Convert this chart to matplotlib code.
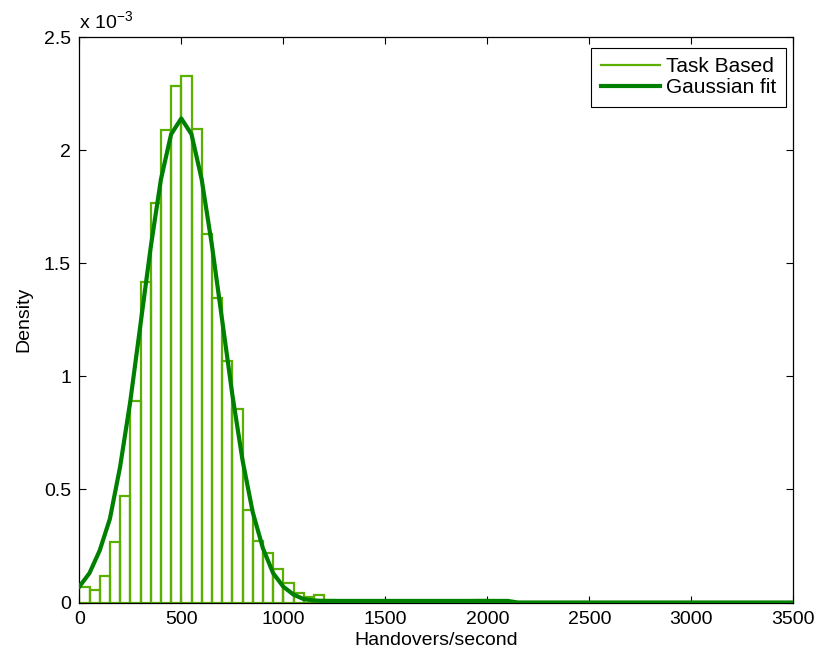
import numpy as np
import matplotlib
matplotlib.use("Agg")
import matplotlib.pyplot as plt
from matplotlib.lines import Line2D
from matplotlib.ticker import FuncFormatter

# ==========================================
# DATA (density in units of 1e-3)
# ==========================================

bin_width = 50
bin_left = np.arange(0, 2100, bin_width)

hist_density = [
    0.067, 0.057, 0.116, 0.268, 0.472, 0.893, 1.419, 1.768, 2.087, 2.283,
    2.327, 2.093, 1.630, 1.344, 1.068, 0.856, 0.407, 0.271, 0.217, 0.147,
    0.087, 0.043, 0.023, 0.033, 0.010, 0.006, 0.008, 0.005, 0.007, 0.006,
    0.005, 0.008, 0.006, 0.004, 0.006, 0.005, 0.004, 0.005, 0.008, 0.009,
    0.005, 0.004,
]

fit_x = [0, 50, 100, 150, 200, 250, 300, 350, 400, 450, 500, 550, 600,
         650, 700, 750, 800, 850, 900, 950, 1000, 1050, 1100, 1150, 1200,
         2100, 2150, 3500]
fit_y = [0.07, 0.13, 0.23, 0.37, 0.60, 0.89, 1.23, 1.57, 1.87, 2.07, 2.14,
         2.07, 1.87, 1.58, 1.25, 0.92, 0.63, 0.40, 0.24, 0.13, 0.07, 0.035,
         0.015, 0.009, 0.007, 0.007, 0.0, 0.0]

x_ticks = [0, 500, 1000, 1500, 2000, 2500, 3000, 3500]
y_ticks = [0, 0.5, 1, 1.5, 2, 2.5]

# ==========================================
# STYLE
# ==========================================

plt.rcParams["font.family"] = ["Liberation Sans", "DejaVu Sans"]
plt.rcParams["mathtext.fontset"] = "custom"
plt.rcParams["mathtext.rm"] = "Liberation Sans"
plt.rcParams["mathtext.it"] = "Liberation Sans"
plt.rcParams["font.size"] = 14

hist_color = "#5aaf00"
fit_color = "#008000"

fig = plt.figure(figsize=(8.22, 6.62), dpi=100)
ax = fig.add_axes([79.3 / 822, 1 - 602.5 / 662,
                   (793.3 - 79.3) / 822, (602.5 - 37) / 662])

# ==========================================
# PLOT
# ==========================================

ax.bar(bin_left, hist_density, width=bin_width, align="edge",
       fill=False, edgecolor=hist_color, linewidth=1.6, zorder=2)

ax.plot(fit_x, fit_y, color=fit_color, linewidth=3.0, zorder=3)

ax.set_xlim(0, 3500)
ax.set_ylim(0, 2.5)
ax.set_xticks(x_ticks)
ax.set_yticks(y_ticks)
ax.yaxis.set_major_formatter(FuncFormatter(lambda v, p: "%g" % v))

ax.tick_params(direction="in", length=5, width=0.8, top=True, right=True,
               labelsize=14, pad=6)
for s in ax.spines.values():
    s.set_linewidth(0.9)

ax.set_xlabel("Handovers/second", fontsize=14, labelpad=3)
ax.set_ylabel("Density", fontsize=14, labelpad=8)

ax.text(0, 1.008, r"x 10$^{-3}$", transform=ax.transAxes,
        fontsize=14, ha="left", va="bottom")

handles = [
    Line2D([], [], color=hist_color, linewidth=1.6),
    Line2D([], [], color=fit_color, linewidth=3.0),
]
leg = ax.legend(handles, ["Task Based", "Gaussian fit"], loc="upper right",
                fontsize=15, fancybox=False, framealpha=1,
                edgecolor="black", handlelength=2.85, handletextpad=0.3,
                borderpad=0.45, labelspacing=0.1, borderaxespad=0,
                bbox_to_anchor=(0.9898, 0.9805))
leg.get_frame().set_linewidth(0.8)

plt.savefig("out.png", dpi=100)
